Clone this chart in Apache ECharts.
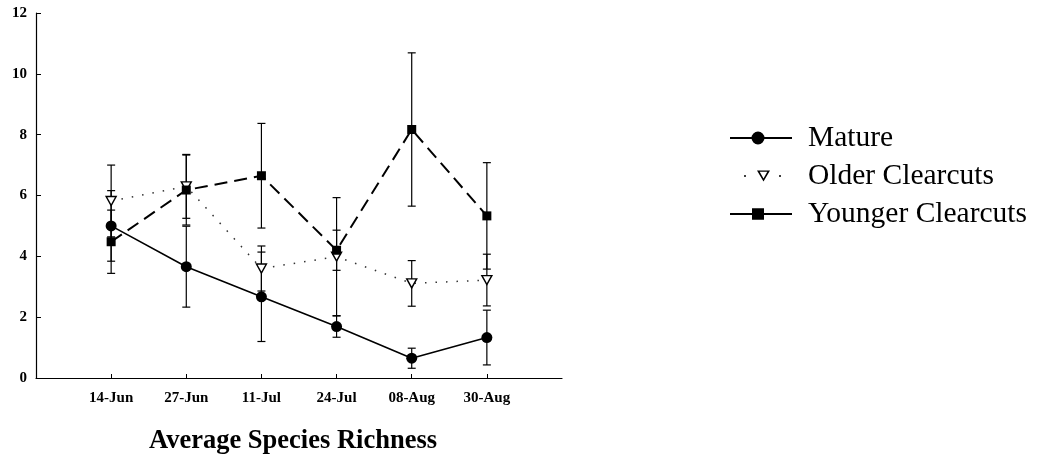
<!DOCTYPE html>
<html>
<head>
<meta charset="utf-8">
<script src="https://cdn.jsdelivr.net/npm/echarts@6/dist/echarts.min.js"></script>
<style>
  html, body { margin: 0; padding: 0; background: #fff; }
  #chart { width: 1040px; height: 464px; }
</style>
</head>
<body>
<div id="chart"></div>
<script>
// Sampling dates (x categories)
const dates = ['14-Jun', '27-Jun', '11-Jul', '24-Jul', '08-Aug', '30-Aug'];
const yTicks = [0, 2, 4, 6, 8, 10, 12];

// Mean species richness per stand type, with standard errors
const mature = [5.0, 3.66, 2.67, 1.69, 0.65, 1.33];
const matureErr = [1.16, 1.33, 1.47, 0.35, 0.33, 0.9];
const older = [5.82, 6.3, 3.6, 3.99, 3.11, 3.22];
const olderErr = [1.18, 1.05, 0.74, 1.94, 0.75, 0.85];
const younger = [4.48, 6.18, 6.65, 4.2, 8.17, 5.33];
const youngerErr = [1.04, 1.15, 1.72, 0.66, 2.52, 1.75];

const FONT = '"Liberation Serif", "Times New Roman", serif';
const positions = dates.map((d, i) => i + 1);

function points(values) {
  return values.map((v, i) => [positions[i], v]);
}

// Vertical error bar with caps, drawn under the markers
function errorBars(name, means, errs) {
  return {
    type: 'custom',
    name: name + ' SE',
    silent: true,
    z: 1,
    data: means.map((m, i) => [positions[i], m - errs[i], m + errs[i]]),
    encode: { x: 0, y: [1, 2] },
    renderItem(params, api) {
      const x = api.value(0);
      const lo = api.coord([x, api.value(1)]);
      const hi = api.coord([x, api.value(2)]);
      const w = 4;
      const style = { stroke: '#000', lineWidth: 1.2 };
      return {
        type: 'group',
        children: [
          { type: 'line', shape: { x1: lo[0], y1: lo[1], x2: hi[0], y2: hi[1] }, style },
          { type: 'line', shape: { x1: lo[0] - w, y1: lo[1], x2: lo[0] + w, y2: lo[1] }, style },
          { type: 'line', shape: { x1: hi[0] - w, y1: hi[1], x2: hi[0] + w, y2: hi[1] }, style }
        ]
      };
    }
  };
}

// Legend glyphs inside a 62x14 box (the leading moves pin the box size)
const iconBox = 'M0,0 M62,14 ';
const iconMature = 'path://' + iconBox + 'M0,6L62,6L62,8L0,8Z M34.5,7A6.5,6.5 0 1 1 21.5,7A6.5,6.5 0 1 1 34.5,7Z';
const iconOlder = 'path://' + iconBox + 'M14,6.2L16,6.2L16,7.8L14,7.8Z M49,6.2L51,6.2L51,7.8L49,7.8Z ' +
  'M27,1.5L40,1.5L33.5,12.5Z M29.7,2.8L33.5,9.6L37.3,2.8Z';
const iconYounger = 'path://' + iconBox + 'M0,6L62,6L62,8L0,8Z M22,1.3L34,1.3L34,12.7L22,12.7Z';

const chart = echarts.init(document.getElementById('chart'), null, { renderer: 'canvas' });

chart.setOption({
  backgroundColor: '#fff',
  animation: false,
  title: {
    text: 'Average Species Richness',
    left: 144,
    top: 423,
    textStyle: { fontFamily: FONT, fontWeight: 'bold', fontSize: 26.5, color: '#000' }
  },
  legend: {
    orient: 'vertical',
    left: 725,
    top: 118,
    itemWidth: 62,
    itemHeight: 14,
    itemGap: 8,
    selectedMode: false,
    textStyle: { fontFamily: FONT, fontSize: 29.5, color: '#000', padding: [0, 0, 0, 11] },
    data: [
      { name: 'Mature', icon: iconMature, itemStyle: { color: '#000', borderWidth: 0 } },
      { name: 'Older Clearcuts', icon: iconOlder, itemStyle: { color: '#000', borderWidth: 0 } },
      { name: 'Younger Clearcuts', icon: iconYounger, itemStyle: { color: '#000', borderWidth: 0 } }
    ]
  },
  grid: { left: 36, right: 478, top: 13, bottom: 86, containLabel: false },
  xAxis: {
    type: 'value',
    min: 0,
    max: 7,
    interval: 1,
    splitLine: { show: false },
    axisLine: { show: true, lineStyle: { color: '#000', width: 1.2 } },
    axisTick: { show: true, inside: true, length: 4, customValues: positions, lineStyle: { color: '#000' } },
    axisLabel: {
      customValues: positions,
      formatter: (v) => dates[Math.round(v) - 1] || '',
      margin: 13,
      fontFamily: FONT,
      fontWeight: 'bold',
      fontSize: 15,
      color: '#000'
    }
  },
  yAxis: {
    type: 'value',
    min: yTicks[0],
    max: yTicks[yTicks.length - 1],
    interval: 2,
    splitLine: { show: false },
    axisLine: { show: true, lineStyle: { color: '#000', width: 1.2 } },
    axisTick: { show: true, inside: true, length: 5, lineStyle: { color: '#000' } },
    axisLabel: { margin: 9, fontFamily: FONT, fontWeight: 'bold', fontSize: 15, color: '#000' }
  },
  series: [
    errorBars('Mature', mature, matureErr),
    errorBars('Older Clearcuts', older, olderErr),
    errorBars('Younger Clearcuts', younger, youngerErr),
    {
      name: 'Older Clearcuts',
      type: 'line',
      z: 3,
      data: points(older),
      symbol: 'path://M0,0L10,0L5,9Z',
      symbolSize: [10, 9],
      lineStyle: { color: '#333', width: 1.5, type: [1.5, 9] },
      itemStyle: { color: '#fff', borderColor: '#000', borderWidth: 1.4 }
    },
    {
      name: 'Younger Clearcuts',
      type: 'line',
      z: 4,
      data: points(younger),
      symbol: 'rect',
      symbolSize: 9,
      lineStyle: { color: '#000', width: 2, type: [13, 7] },
      itemStyle: { color: '#000' }
    },
    {
      name: 'Mature',
      type: 'line',
      z: 5,
      data: points(mature),
      symbol: 'circle',
      symbolSize: 11,
      lineStyle: { color: '#000', width: 1.6 },
      itemStyle: { color: '#000' }
    }
  ]
});
</script>
</body>
</html>
